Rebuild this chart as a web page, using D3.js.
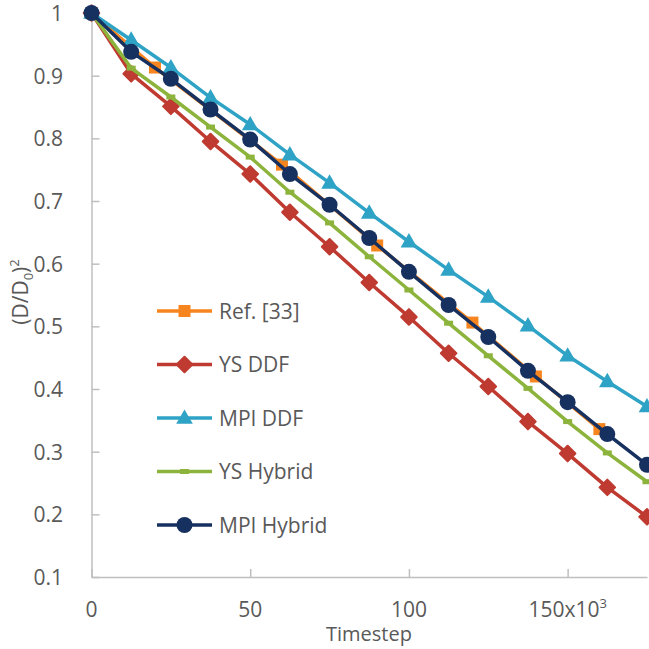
<!DOCTYPE html>
<html>
<head>
<meta charset="utf-8">
<script src="https://cdn.jsdelivr.net/npm/d3@7"></script>
<style>
  body { margin: 0; background: #fff; }
  text { font-family: "Open Sans", sans-serif; fill: #595959; }
</style>
</head>
<body>
<svg id="chart" width="649" height="649"></svg>
<script>
// timestep in thousands
var steps = [0, 12.5, 25, 37.5, 50, 62.5, 75, 87.5, 100, 112.5, 125, 137.5, 150, 162.5, 175];
var refSteps = [0, 20, 60, 90, 120, 140, 160];

var ref33 = [1.0, 0.913, 0.758, 0.629, 0.506, 0.420, 0.336];
var ysDDF = [1.0, 0.903, 0.851, 0.795, 0.743, 0.682, 0.627, 0.570, 0.515, 0.457, 0.404, 0.348, 0.297, 0.243, 0.196];
var mpiDDF = [1.0, 0.957, 0.913, 0.865, 0.822, 0.774, 0.729, 0.681, 0.635, 0.590, 0.547, 0.501, 0.453, 0.412, 0.372];
var ysHybrid = [1.0, 0.912, 0.866, 0.818, 0.770, 0.714, 0.665, 0.611, 0.558, 0.505, 0.453, 0.401, 0.348, 0.298, 0.252];
var mpiHybrid = [1.0, 0.938, 0.895, 0.846, 0.798, 0.743, 0.694, 0.641, 0.587, 0.534, 0.483, 0.429, 0.379, 0.328, 0.279];

var yTicks = [0.1, 0.2, 0.3, 0.4, 0.5, 0.6, 0.7, 0.8, 0.9, 1];
var xTicks = [0, 50, 100, 150];

var series = [
    { name: "Ref. [33]",  xs: refSteps, ys: ref33,     color: "#f7851f", marker: "square" },
    { name: "YS DDF",     xs: steps,    ys: ysDDF,     color: "#bf3a30", marker: "diamond" },
    { name: "MPI DDF",    xs: steps,    ys: mpiDDF,    color: "#2fa3c6", marker: "triangle" },
    { name: "YS Hybrid",  xs: steps,    ys: ysHybrid,  color: "#8cb43d", marker: "dash" },
    { name: "MPI Hybrid", xs: steps,    ys: mpiHybrid, color: "#16305f", marker: "circle" }
];

var svg = d3.select("#chart");
var x = d3.scaleLinear().domain([0, 175]).range([91.5, 647]);
var y = d3.scaleLinear().domain([0.1, 1]).range([577, 13]);

// axes (ticks point inward)
svg.append("g").attr("transform", "translate(0,577)")
    .call(d3.axisBottom(x).tickValues(xTicks).tickSizeInner(-8).tickSizeOuter(0).tickFormat(""));
svg.append("g").attr("transform", "translate(91.5,0)")
    .call(d3.axisLeft(y).tickValues(yTicks).tickSizeInner(-8).tickSizeOuter(0).tickFormat(""));
svg.selectAll(".domain, .tick line").attr("stroke", "#bfbfbf").attr("stroke-width", 1.5);

// tick labels
svg.selectAll(".ylab").data(yTicks).enter().append("text")
    .attr("x", 63).attr("y", function(d){ return y(d); })
    .attr("dy", "0.38em").attr("text-anchor", "end")
    .style("font-size", "21px")
    .text(function(d){ return +d.toFixed(1); });

var xl = svg.selectAll(".xlab").data(xTicks).enter().append("text")
    .attr("x", function(d){ return x(d); }).attr("y", 617)
    .attr("text-anchor", "middle")
    .style("font-size", "21px");
xl.append("tspan").text(function(d){ return d === 150 ? "150x10" : d; });
xl.filter(function(d){ return d === 150; }).append("tspan")
    .attr("dy", -9).style("font-size", "13px").text("3");

svg.append("text").attr("x", 369).attr("y", 641).attr("text-anchor", "middle")
    .style("font-size", "20px").text("Timestep");

var yl = svg.append("text").attr("transform", "translate(28,292) rotate(-90)")
    .attr("text-anchor", "middle").style("font-size", "21px");
yl.append("tspan").text("(D/D");
yl.append("tspan").attr("dy", 5).style("font-size", "13px").text("0");
yl.append("tspan").attr("dy", -5).text(")");
yl.append("tspan").attr("dy", -9).style("font-size", "13px").text("2");

function drawMarker(g, type, color) {
    if (type === "square") {
        g.append("rect").attr("x", -6).attr("y", -6).attr("width", 12).attr("height", 12).attr("fill", color);
    } else if (type === "diamond") {
        g.append("rect").attr("x", -5.5).attr("y", -5.5).attr("width", 11).attr("height", 11)
            .attr("transform", "rotate(45)").attr("fill", color)
            .attr("stroke", color).attr("stroke-width", 2).attr("stroke-linejoin", "round");
    } else if (type === "triangle") {
        g.append("path").attr("d", d3.symbol().type(d3.symbolTriangle).size(120)()).attr("transform", "translate(0,1)").attr("fill", color);
    } else if (type === "dash") {
        g.append("rect").attr("x", -4.5).attr("y", -2.5).attr("width", 9).attr("height", 5).attr("fill", color);
    } else {
        g.append("circle").attr("r", 8).attr("fill", color);
    }
}

var line = d3.line();
series.forEach(function(s) {
    var pts = s.xs.map(function(v, i){ return [x(v), y(s.ys[i])]; });
    svg.append("path").attr("d", line(pts)).attr("fill", "none")
        .attr("stroke", s.color).attr("stroke-width", 3.5).attr("stroke-linejoin", "round");
    pts.forEach(function(p) {
        var g = svg.append("g").attr("transform", "translate(" + p[0] + "," + p[1] + ")");
        drawMarker(g, s.marker, s.color);
    });
});

// legend
var legendY = [311, 364.5, 418, 471.5, 525];
series.forEach(function(s, i) {
    var ly = legendY[i];
    svg.append("line").attr("x1", 157).attr("x2", 212).attr("y1", ly).attr("y2", ly)
        .attr("stroke", s.color).attr("stroke-width", 3.5);
    var g = svg.append("g").attr("transform", "translate(184.5," + ly + ")");
    drawMarker(g, s.marker, s.color);
    svg.append("text").attr("x", 219).attr("y", ly).attr("dy", "0.36em")
        .style("font-size", "21px").text(s.name);
});
</script>
</body>
</html>
